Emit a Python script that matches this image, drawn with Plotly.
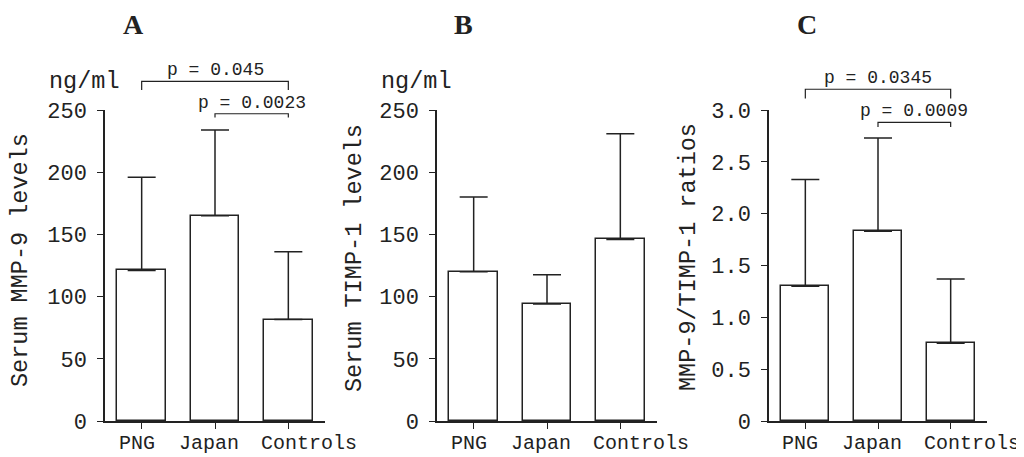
import plotly.graph_objects as go

# ---------------- data ----------------
categories = ["PNG", "Japan", "Controls"]

mmp9_mean = [121, 165, 81.5]
mmp9_sd = [75, 69, 54.5]

timp1_mean = [120, 94, 146]
timp1_sd = [60, 23.5, 85]

ratio_mean = [1.30, 1.83, 0.75]
ratio_sd = [1.03, 0.90, 0.62]

ng_ticks = [0, 50, 100, 150, 200, 250]
ng_ticktext = ["0", "50", "100", "150", "200", "250"]
ratio_ticks = [0, 0.5, 1.0, 1.5, 2.0, 2.5, 3.0]
ratio_ticktext = ["0", "0.5", "1.0", "1.5", "2.0", "2.5", "3.0"]

panel_letters = ["A", "B", "C"]
y_titles = ["Serum MMP-9 levels", "Serum TIMP-1 levels", "MMP-9/TIMP-1 ratios"]

# brackets: (from index, to index, level, drop, label)
brackets_A = [(0, 2, 273, 7, "p = 0.045"), (1, 2, 247, 3, "p = 0.0023")]
brackets_C = [(0, 2, 3.20, 0.09, "p = 0.0345"), (1, 2, 2.88, 0.045, "p = 0.0009")]

# ---------------- layout geometry ----------------
# the page body has an 8px default margin; size the figure so it fills the window
OFF = 8
W, H = 1024 - OFF, 457 - OFF
def px(x):
    return (x - OFF) / W
def py(y):
    return 1 - (y - OFF) / H

y_dom = [py(421), py(110)]
x_doms = [[px(105), px(325)], [px(437), px(657)], [px(769), px(987)]]
ranges = [[0, 250], [0, 250], [0, 3.0]]
label_shift = [-5, -6, 21]   # horizontal nudge of category labels (px)

INK = "#222222"
MONO = "Liberation Mono, Courier New, monospace"

fig = go.Figure()

panels = [
    (mmp9_mean, mmp9_sd, ng_ticks, ng_ticktext),
    (timp1_mean, timp1_sd, ng_ticks, ng_ticktext),
    (ratio_mean, ratio_sd, ratio_ticks, ratio_ticktext),
]

annotations = []
for k, (means, sds, tv, tt) in enumerate(panels):
    sfx = "" if k == 0 else str(k + 1)
    fig.add_trace(go.Bar(
        x=[0, 1, 2], y=means, width=0.66,
        marker=dict(color="white", line=dict(color=INK, width=1.5)),
        error_y=dict(type="data", array=sds, arrayminus=[0, 0, 0], symmetric=False,
                     color=INK, thickness=1.5, width=14),
        xaxis="x" + sfx, yaxis="y" + sfx, showlegend=False, hoverinfo="skip",
    ))
    xa = dict(domain=x_doms[k], range=[-0.5, 2.5], tickvals=[0, 1, 2],
              showticklabels=False, automargin=False,
              showline=True, linecolor=INK, linewidth=1.5, ticks="outside", ticklen=6,
              tickcolor=INK, tickwidth=1, showgrid=False, zeroline=False,
              anchor="y" + sfx, fixedrange=True)
    ya = dict(domain=y_dom, range=ranges[k], tickvals=tv, ticktext=tt, automargin=False,
              showline=True, linecolor=INK, linewidth=1.5, ticks="outside", ticklen=6,
              tickcolor=INK, tickwidth=1, showgrid=False, zeroline=False,
              anchor="x" + sfx, tickfont=dict(family=MONO, size=22, color=INK),
              ticklabelstandoff=6, fixedrange=True)
    fig.layout["xaxis" + sfx] = xa
    fig.layout["yaxis" + sfx] = ya
    # category labels
    for i, cat in enumerate(categories):
        annotations.append(dict(x=i, y=py(443), xref="x" + sfx, yref="paper",
                                text=cat, showarrow=False, xanchor="center",
                                yanchor="middle", xshift=label_shift[i],
                                font=dict(family=MONO, size=20, color=INK)))


def to_paper(v, k):
    r0, r1 = ranges[k]
    return y_dom[0] + (v - r0) / (r1 - r0) * (y_dom[1] - y_dom[0])


shapes = []
for k, brs in [(0, brackets_A), (2, brackets_C)]:
    xr = "x" if k == 0 else "x" + str(k + 1)
    for (i0, i1, lev, drop, lab) in brs:
        yb = to_paper(lev, k)
        yt = to_paper(lev - drop, k)
        shapes.append(dict(type="path", xref=xr, yref="paper",
                           path=f"M {i0},{yt} L {i0},{yb} L {i1},{yb} L {i1},{yt}",
                           line=dict(color=INK, width=1.2)))
        annotations.append(dict(x=(i0 + i1) / 2, y=yb, xref=xr, yref="paper",
                                text=lab, showarrow=False, yanchor="middle", yshift=11,
                                font=dict(family=MONO, size=18, color=INK)))

# panel letters
for k, cx in enumerate([133, 463, 807]):
    annotations.append(dict(x=px(cx), y=py(25), xref="paper", yref="paper",
                            text="<b>" + panel_letters[k] + "</b>", showarrow=False,
                            xanchor="center", yanchor="middle", borderpad=0,
                            font=dict(family="Liberation Serif", size=28, color=INK)))

# y titles
for k, (cx, cy) in enumerate([(20, 260), (354, 258), (688, 257)]):
    annotations.append(dict(x=px(cx), y=py(cy), xref="paper", yref="paper",
                            text=y_titles[k], showarrow=False, textangle=-90,
                            xanchor="center", yanchor="middle",
                            font=dict(family=MONO, size=23.5, color=INK)))

# units
for (cx, cy) in [(84, 81), (416, 81)]:
    annotations.append(dict(x=px(cx), y=py(cy), xref="paper", yref="paper",
                            text="ng/ml", showarrow=False, xanchor="center", yanchor="middle",
                            font=dict(family=MONO, size=23.5, color=INK)))

fig.update_layout(width=W, height=H, margin=dict(l=0, r=0, t=0, b=0, pad=0, autoexpand=False),
                  plot_bgcolor="white", paper_bgcolor="white",
                  shapes=shapes, annotations=annotations, bargap=0)

fig.write_html("out.html", config={"displayModeBar": False})
